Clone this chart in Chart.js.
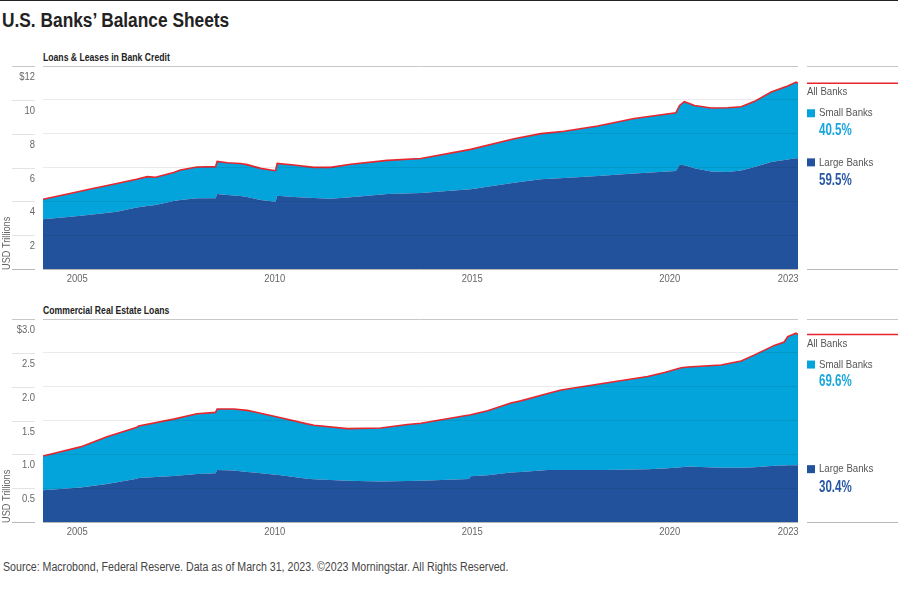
<!DOCTYPE html>
<html>
<head>
<meta charset="utf-8">
<script src="https://cdn.jsdelivr.net/npm/chart.js@4.4.1/dist/chart.umd.min.js"></script>
<style>
    body { margin: 0; background: #fff; }
    #page { position: relative; width: 898px; height: 592px; overflow: hidden; font-family: 'Liberation Sans', Arial, sans-serif; }
    #topline { position: absolute; left: 0; top: 0; width: 898px; height: 1px; background: #222; }
    .txt { position: absolute; white-space: nowrap; line-height: 1; transform-origin: left center; }
    #title { left: 2px; top: 10px; font-size: 20px; font-weight: bold; color: #222; transform: scaleX(0.866); }
    .sub { left: 43px; font-size: 10px; font-weight: bold; color: #222; transform: scaleX(0.864); }
    #source { left: 3px; top: 561px; font-size: 12px; color: #444; transform: scaleX(0.885); }
    .box { position: absolute; left: 0; width: 898px; height: 231px; }
</style>
</head>
<body>
<div id="page">
    <div id="topline"></div>
    <div id="title" class="txt">U.S. Banks’ Balance Sheets</div>
    <div class="txt sub" style="top:53px">Loans &amp; Leases in Bank Credit</div>
    <div class="box" style="top:59px"><canvas id="chartLoans"></canvas></div>
    <div class="txt sub" style="top:306px">Commercial Real Estate Loans</div>
    <div class="box" style="top:312px"><canvas id="chartCre"></canvas></div>
    <div id="source" class="txt">Source: Macrobond, Federal Reserve. Data as of March 31, 2023. ©2023 Morningstar. All Rights Reserved.</div>
</div>
<script>
const FONT = "'Liberation Sans', Arial, sans-serif";
const DARK = '#22529c';
const LIGHT = '#03a4db';
const RED = '#e8262d';

const yearTicks = [2005, 2010, 2015, 2020, 2023];
const seriesNames = ['All Banks', 'Small Banks', 'Large Banks'];
const axisTitle = 'USD Trillions';

// Loans & Leases in Bank Credit, USD trillions
const loanDates = [2004.13, 2004.9, 2005.33, 2006.0, 2006.5, 2006.77, 2006.98, 2007.44, 2007.61, 2008.03,
    2008.5, 2008.54, 2008.8, 2009.13, 2009.3, 2009.64, 2010.02, 2010.06, 2010.48, 2010.99,
    2011.41, 2011.92, 2012.85, 2013.7, 2014.96, 2016.06, 2016.74, 2017.33, 2018.18, 2019.1,
    2020.16, 2020.25, 2020.37, 2020.63, 2021.05, 2021.47, 2021.81, 2022.15, 2022.57, 2022.99,
    2023.2, 2023.25];
const loanAll = [4.12, 4.51, 4.73, 5.05, 5.30, 5.46, 5.42, 5.71, 5.85, 6.03,
    6.05, 6.36, 6.28, 6.24, 6.17, 5.95, 5.81, 6.24, 6.15, 6.01,
    6.01, 6.19, 6.42, 6.53, 7.07, 7.70, 8.00, 8.14, 8.45, 8.90,
    9.24, 9.67, 9.89, 9.67, 9.52, 9.53, 9.59, 9.91, 10.46, 10.82,
    11.05, 10.98];
const loanLarge = [2.94, 3.10, 3.20, 3.39, 3.64, 3.72, 3.78, 4.02, 4.08, 4.18,
    4.18, 4.43, 4.38, 4.31, 4.25, 4.08, 3.98, 4.33, 4.26, 4.19,
    4.16, 4.24, 4.43, 4.49, 4.71, 5.10, 5.30, 5.38, 5.50, 5.65,
    5.79, 6.16, 6.14, 5.95, 5.76, 5.74, 5.83, 6.03, 6.32, 6.48,
    6.54, 6.54];
const loanShares = ['40.5%', '59.5%'];

// Commercial Real Estate Loans, USD trillions
const creDates = [2004.13, 2005.08, 2005.75, 2006.51, 2006.55, 2007.44, 2008.03, 2008.5, 2008.54, 2008.96,
    2009.3, 2009.47, 2010.15, 2010.82, 2010.99, 2011.84, 2012.68, 2013.36, 2013.7, 2014.92,
    2014.96, 2015.39, 2015.98, 2016.23, 2016.91, 2017.25, 2018.34, 2019.44, 2019.87, 2020.29,
    2020.46, 2021.3, 2021.81, 2022.15, 2022.65, 2022.9, 2022.99, 2023.2, 2023.25];
const creAll = [0.975, 1.11, 1.26, 1.40, 1.42, 1.52, 1.60, 1.62, 1.67, 1.67,
    1.65, 1.63, 1.54, 1.45, 1.43, 1.38, 1.39, 1.44, 1.46, 1.58,
    1.585, 1.645, 1.76, 1.79, 1.90, 1.95, 2.05, 2.15, 2.21, 2.28,
    2.29, 2.32, 2.38, 2.47, 2.61, 2.66, 2.74, 2.79, 2.77];
const creLarge = [0.47, 0.51, 0.56, 0.64, 0.65, 0.68, 0.71, 0.72, 0.77, 0.76,
    0.74, 0.73, 0.69, 0.64, 0.63, 0.61, 0.60, 0.605, 0.61, 0.635,
    0.675, 0.69, 0.73, 0.74, 0.77, 0.77, 0.77, 0.78, 0.79, 0.81,
    0.82, 0.80, 0.80, 0.81, 0.83, 0.835, 0.84, 0.84, 0.84];
const creShares = ['69.6%', '30.4%'];

function gridColor(max) {
    return (c) => {
        if (c.tick.value === max) return '#c8c8c8';
        if (c.tick.value === 0) return '#b8b8b8';
        return 'rgba(0,0,0,0.08)';
    };
}

// no condensed face is installed, so squeeze text horizontally
function narrowText(ctx, text, x, y, sq, align) {
    ctx.save();
    ctx.translate(x, y);
    ctx.scale(sq, 1);
    ctx.textAlign = align || 'left';
    ctx.fillText(text, 0, 0);
    ctx.restore();
}

// tick labels, axis title, tick stubs and the right-hand label column
const sidePanel = {
    id: 'sidePanel',
    afterDraw(chart, args, opts) {
        const { ctx, chartArea, scales: { x, y } } = chart;
        const x0 = 807, x1 = chart.width;
        ctx.save();
        ctx.lineWidth = 1;
        ctx.textBaseline = 'middle';

        // y ticks: short stub + label under the grid line
        ctx.font = '11.5px ' + FONT;
        ctx.fillStyle = '#666';
        y.ticks.forEach(t => {
            const py = Math.round(y.getPixelForValue(t.value)) + 0.5;
            ctx.strokeStyle = t.value === y.max ? '#c8c8c8' : (t.value === 0 ? '#b8b8b8' : '#e3e3e3');
            ctx.beginPath(); ctx.moveTo(12, py); ctx.lineTo(35, py); ctx.stroke();
            if (t.value !== 0) {
                const s = t.value.toFixed(opts.decimals);
                narrowText(ctx, t.value === y.max ? '$' + s : s, 35, py + 10.5, 0.82, 'right');
            }
        });
        // x ticks
        x.ticks.forEach(t => {
            narrowText(ctx, String(t.value), x.getPixelForValue(t.value), chartArea.bottom + 10, 0.82, 'center');
        });
        // axis title, rotated, starting at the bottom
        ctx.save();
        ctx.translate(7, chartArea.bottom + 1);
        ctx.rotate(-Math.PI / 2);
        narrowText(ctx, axisTitle, 0, 0, 0.8, 'left');
        ctx.restore();

        ctx.strokeStyle = '#c8c8c8';
        ctx.beginPath(); ctx.moveTo(x0, Math.round(chartArea.top) + 0.5); ctx.lineTo(x1, Math.round(chartArea.top) + 0.5); ctx.stroke();
        ctx.strokeStyle = '#b8b8b8';
        ctx.beginPath(); ctx.moveTo(x0, Math.round(chartArea.bottom) + 0.5); ctx.lineTo(x1, Math.round(chartArea.bottom) + 0.5); ctx.stroke();

        const redY = y.getPixelForValue(opts.all);
        const largeY = y.getPixelForValue(opts.large);
        ctx.strokeStyle = RED;
        ctx.lineWidth = 1.5;
        ctx.beginPath(); ctx.moveTo(x0, redY); ctx.lineTo(x1, redY); ctx.stroke();

        ctx.font = '11.5px ' + FONT;
        ctx.fillStyle = '#555';
        narrowText(ctx, seriesNames[0], x0, redY + 9, 0.84);

        ctx.fillStyle = LIGHT;
        ctx.fillRect(x0, redY + 26, 8, 8);
        ctx.fillStyle = '#555';
        narrowText(ctx, seriesNames[1], 819, redY + 30, 0.84);
        ctx.font = 'bold 16.5px ' + FONT;
        ctx.fillStyle = '#16a6dd';
        narrowText(ctx, opts.shares[0], 819, redY + 47, 0.7);

        ctx.font = '11.5px ' + FONT;
        ctx.fillStyle = DARK;
        ctx.fillRect(x0, largeY, 8, 8);
        ctx.fillStyle = '#555';
        narrowText(ctx, seriesNames[2], 819, largeY + 4, 0.84);
        ctx.font = 'bold 16.5px ' + FONT;
        ctx.fillStyle = '#2857a5';
        narrowText(ctx, opts.shares[1], 819, largeY + 22, 0.7);
        ctx.restore();
    }
};

function makeChart(id, dates, all, large, shares, max, step, decimals) {
    const small = all.map((v, i) => +(v - large[i]).toFixed(3));
    const pts = arr => arr.map((v, i) => ({ x: dates[i], y: v }));

    return new Chart(document.getElementById(id), {
        type: 'line',
        data: {
            datasets: [
                { label: seriesNames[0], data: pts(all), stack: 'all', borderColor: RED, borderWidth: 1.6, fill: false },
                { label: seriesNames[2], data: pts(large), stack: 'parts', borderWidth: 0, backgroundColor: DARK, fill: 'origin' },
                { label: seriesNames[1], data: pts(small), stack: 'parts', borderWidth: 0, backgroundColor: LIGHT, fill: '-1' }
            ]
        },
        options: {
            responsive: true,
            maintainAspectRatio: false,
            animation: false,
            layout: { padding: { top: 7, right: 100, left: 0, bottom: 0 } },
            elements: { point: { radius: 0 }, line: { tension: 0 } },
            plugins: {
                legend: { display: false },
                tooltip: { enabled: false },
                sidePanel: { all: all[all.length - 1], large: large[large.length - 1], shares: shares, decimals: decimals }
            },
            scales: {
                x: {
                    type: 'linear',
                    min: dates[0],
                    max: dates[dates.length - 1],
                    grid: { display: false },
                    border: { display: false },
                    ticks: { display: false },
                    afterBuildTicks: s => { s.ticks = yearTicks.map(v => ({ value: v })); },
                    afterFit: s => { s.height = 21; s.paddingLeft = 0; s.paddingRight = 0; }
                },
                y: {
                    stacked: true,
                    min: 0,
                    max: max,
                    border: { display: false },
                    grid: { color: gridColor(max), drawTicks: false, z: 1 },
                    ticks: { display: false, stepSize: step },
                    afterFit: s => { s.width = 43; s.paddingTop = 0; s.paddingBottom = 0; }
                }
            }
        },
        plugins: [sidePanel]
    });
}

makeChart('chartLoans', loanDates, loanAll, loanLarge, loanShares, 12, 2, 0);
makeChart('chartCre', creDates, creAll, creLarge, creShares, 3, 0.5, 1);
</script>
</body>
</html>
